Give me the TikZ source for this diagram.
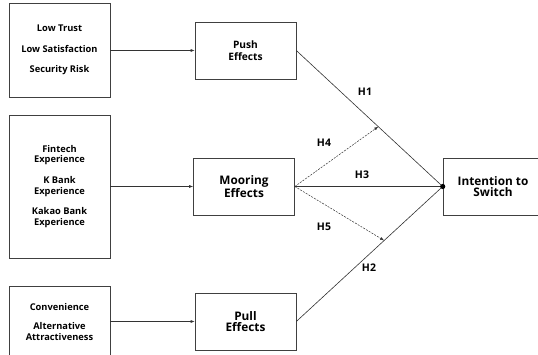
\documentclass[tikz,border=0pt]{standalone}
\usepackage{fontspec}
\setmainfont{Open Sans}
\usetikzlibrary{arrows.meta,calc}
\tikzset{
  box/.style={draw=black!75, line width=0.6pt, rectangle, align=center, inner sep=0pt},
  srcbox/.style={box, minimum width=101pt, font=\bfseries\fontsize{9.3}{10.7}\selectfont},
  effbox/.style={box, minimum width=101pt, minimum height=57pt, font=\bfseries\fontsize{11.8}{11.7}\selectfont},
  feed/.style={draw=black!80, line width=0.6pt, -{Latex[length=4pt,width=3pt]}},
  hyp/.style={draw=black!80, line width=0.6pt},
  mod/.style={draw=black!80, line width=0.5pt, dashed, dash pattern=on 2pt off 1.2pt, -{Latex[length=4pt,width=3pt]}},
  hlab/.style={font=\bfseries\fontsize{10.5}{12}\selectfont}
}
\begin{document}
\begin{tikzpicture}[x=1pt,y=-1pt]
\useasboundingbox (0,0) rectangle (538,355);
\clip (0,0) rectangle (538,355);
\node[srcbox, minimum height=94pt] (lt) at (59.5,50) {Low Trust\\[10pt]Low Satisfaction\\[10pt]Security Risk};
\node[srcbox, minimum height=143pt] (lm) at (59.5,186.5) {Fintech\\Experience\\[10pt]K Bank\\Experience\\[10pt]Kakao Bank\\Experience};
\node[srcbox, minimum height=72pt] (lb) at (59.5,322) {Convenience\\[9pt]Alternative\\Attractiveness};
\node[effbox, font=\bfseries\fontsize{10.2}{11.7}\selectfont] (push) at (245.5,50.5) {Push\\Effects};
\node[effbox] (moor) at (244,186.5) {Mooring\\Effects};
\node[effbox] (pull) at (245.5,321.5) {Pull\\Effects};
\node[effbox, minimum width=100pt] (int) at (493,186.5) {Intention to\\Switch};
\draw[feed] (lt.east |- push) -- (push.west);
\draw[feed] (lm.east |- moor) -- (moor.west);
\draw[feed] (lb.east |- pull) -- (pull.west);
\coordinate (cv) at (int.west);
\draw[hyp] (push.east) -- (cv);
\draw[hyp] (pull.east) -- (cv);
\draw[hyp] (moor.east) -- (cv);
\fill (cv) circle (2.6pt);
\coordinate (m1) at ($(push.east)!0.56!(cv)$);
\coordinate (m2) at ($(pull.east)!0.6!(cv)$);
\draw[mod] (moor.east) -- (m1);
\draw[mod] (moor.east) -- (m2);
\node[hlab] (h1) at (365,92) {H1};
\node[hlab] (h4) at (324,143) {H4};
\node[hlab] (h3) at (362,175) {H3};
\node[hlab] (h5) at (324,227) {H5};
\node[hlab] (h2) at (369,268) {H2};
\end{tikzpicture}
\end{document}
